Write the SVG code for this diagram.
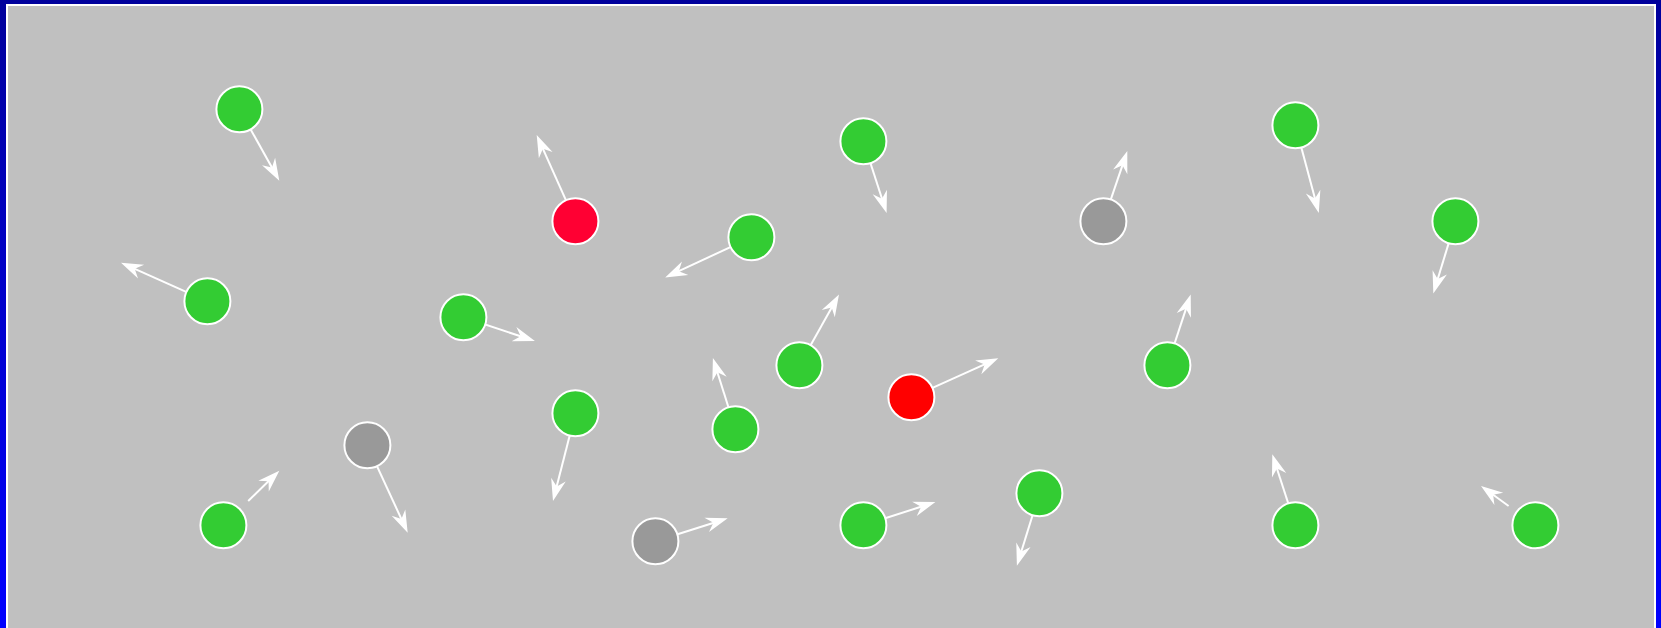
<svg xmlns="http://www.w3.org/2000/svg" width="1661" height="628" viewBox="0 0 1661 628">
<style>
.n{stroke:#fff;stroke-width:2}
.g{fill:#33cc33}
.gr{fill:#999999}
.c line{stroke:#fff;stroke-width:2;marker-end:url(#ah)}
</style>
<defs>
<linearGradient id="bg" x1="0" y1="0" x2="0" y2="1">
<stop offset="0" stop-color="#00009c"/>
<stop offset="1" stop-color="#0000ff"/>
</linearGradient>
<marker id="ah" markerUnits="userSpaceOnUse" markerWidth="30" markerHeight="20" viewBox="-12 -10 26 20" refX="0" refY="0" orient="auto" overflow="visible">
<path d="M12,0 L-10,-7.5 L-3,0 L-10,7.5 Z" fill="#fff"/>
</marker>
</defs>
<rect x="0" y="0" width="1661" height="628" fill="url(#bg)"/>
<rect x="7" y="5" width="1648" height="640" fill="#c0c0c0" stroke="#fff" stroke-width="2"/>
<g id="connectors" class="c">
<line x1="239.4" y1="109.3" x2="273.45" y2="170.22"/>
<line x1="575.4" y1="221.3" x2="541.61" y2="145.95"/>
<line x1="863.4" y1="141.3" x2="882.9" y2="201.49"/>
<line x1="1295.4" y1="125.3" x2="1315.7" y2="201.31"/>
<line x1="1103.4" y1="221.3" x2="1123.44" y2="162.36"/>
<line x1="1455.4" y1="221.3" x2="1436.82" y2="281.93"/>
<line x1="751.4" y1="237.3" x2="676.08" y2="272.43"/>
<line x1="207.4" y1="301.3" x2="131.96" y2="267.6"/>
<line x1="463.4" y1="317.3" x2="523.51" y2="337.31"/>
<line x1="799.4" y1="365.3" x2="833.14" y2="304.97"/>
<line x1="911.4" y1="397.3" x2="987.35" y2="363.21"/>
<line x1="1167.4" y1="365.3" x2="1186.95" y2="305.9"/>
<line x1="575.4" y1="413.3" x2="555.97" y2="489.37"/>
<line x1="735.4" y1="429.3" x2="716.51" y2="369.44"/>
<line x1="367.4" y1="445.3" x2="402.67" y2="521.8"/>
<line x1="248.2" y1="501" x2="270.72" y2="479.09"/>
<line x1="655.4" y1="541.3" x2="716.26" y2="521.94"/>
<line x1="863.4" y1="525.3" x2="923.98" y2="505.78"/>
<line x1="1039.4" y1="493.3" x2="1020.46" y2="554.24"/>
<line x1="1295.4" y1="525.3" x2="1276.01" y2="465.71"/>
<line x1="1508.6" y1="506" x2="1490.73" y2="493.03"/>
</g>
<g id="n1"><circle class="n g" cx="239.4" cy="109.3" r="23"/></g>
<g id="n2"><circle class="n" fill="#ff0033" cx="575.4" cy="221.3" r="23"/></g>
<g id="n3"><circle class="n g" cx="863.4" cy="141.3" r="23"/></g>
<g id="n4"><circle class="n g" cx="1295.4" cy="125.3" r="23"/></g>
<g id="n5"><circle class="n gr" cx="1103.4" cy="221.3" r="23"/></g>
<g id="n6"><circle class="n g" cx="1455.4" cy="221.3" r="23"/></g>
<g id="n7"><circle class="n g" cx="751.4" cy="237.3" r="23"/></g>
<g id="n8"><circle class="n g" cx="207.4" cy="301.3" r="23"/></g>
<g id="n9"><circle class="n g" cx="463.4" cy="317.3" r="23"/></g>
<g id="n10"><circle class="n g" cx="799.4" cy="365.3" r="23"/></g>
<g id="n11"><circle class="n" fill="#ff0000" cx="911.4" cy="397.3" r="23"/></g>
<g id="n12"><circle class="n g" cx="1167.4" cy="365.3" r="23"/></g>
<g id="n13"><circle class="n g" cx="575.4" cy="413.3" r="23"/></g>
<g id="n14"><circle class="n g" cx="735.4" cy="429.3" r="23"/></g>
<g id="n15"><circle class="n gr" cx="367.4" cy="445.3" r="23"/></g>
<g id="n16"><circle class="n g" cx="223.4" cy="525.3" r="23"/></g>
<g id="n17"><circle class="n gr" cx="655.4" cy="541.3" r="23"/></g>
<g id="n18"><circle class="n g" cx="863.4" cy="525.3" r="23"/></g>
<g id="n19"><circle class="n g" cx="1039.4" cy="493.3" r="23"/></g>
<g id="n20"><circle class="n g" cx="1295.4" cy="525.3" r="23"/></g>
<g id="n21"><circle class="n g" cx="1535.4" cy="525.3" r="23"/></g>
</svg>
